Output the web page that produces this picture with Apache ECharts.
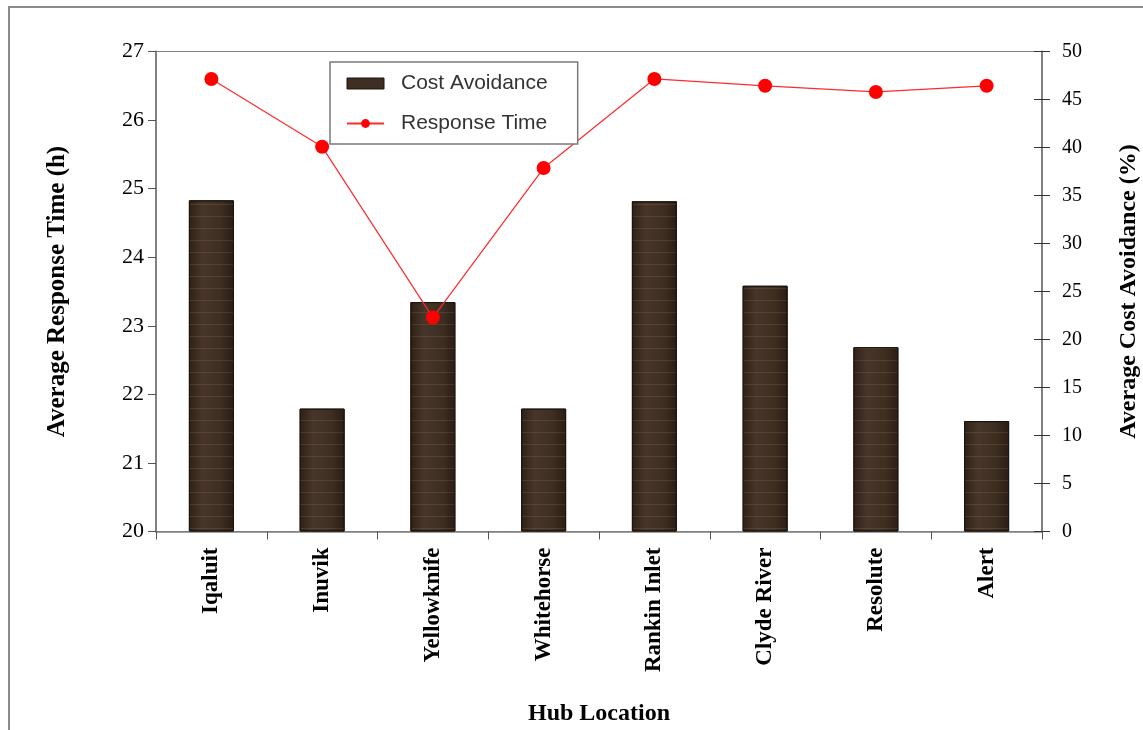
<!DOCTYPE html>
<html>
<head>
<meta charset="utf-8">
<script src="https://cdn.jsdelivr.net/npm/echarts@6/dist/echarts.min.js"></script>
<style>html,body{margin:0;padding:0;background:#fff;overflow:hidden;}#c{width:1143px;height:730px;}</style>
</head>
<body>
<div id="c"></div>
<script>
var categories = ['Iqaluit', 'Inuvik', 'Yellowknife', 'Whitehorse', 'Rankin Inlet', 'Clyde River', 'Resolute', 'Alert'];
var costAvoidance = [34.5, 12.8, 23.9, 12.8, 34.4, 25.6, 19.2, 11.5];
var responseTime = [26.6, 25.61, 23.12, 25.3, 26.6, 26.5, 26.41, 26.5];
var leftTicks = [20, 27, 1];
var rightTicks = [0, 50, 5];

var chart = echarts.init(document.getElementById('c'), null, {renderer: 'canvas', width: 1143, height: 730});
var serif = '"Liberation Serif", "Times New Roman", serif';
var sans = '"Liberation Sans", Arial, sans-serif';
var axisGray = '#808080';

var woodColor = new echarts.graphic.LinearGradient(0, 0, 1, 0, [
  {offset: 0, color: '#2e2016'},
  {offset: 0.3, color: '#47352a'},
  {offset: 0.7, color: '#3e2e22'},
  {offset: 1, color: '#2a1d14'}
]);

chart.setOption({
  animation: false,
  backgroundColor: '#fff',
  graphic: [{
    type: 'polyline', shape: {points: [[9, 740], [9, 7], [1150, 7]]},
    style: {fill: 'none', stroke: '#8a8a8a', lineWidth: 2}, silent: true
  }],
  grid: {left: 156, right: 101, top: 51.5, bottom: 198.5, outerBoundsMode: 'none', containLabel: false, show: true, borderColor: axisGray, borderWidth: 1},
  legend: {
    left: 330, top: 62, width: 248, height: 80,
    orient: 'vertical', itemGap: 19, padding: [11, 30, 10, 16],
    borderColor: '#7a7a7a', borderWidth: 1.5, backgroundColor: '#fff',
    itemWidth: 37, itemHeight: 11,
    textStyle: {fontFamily: sans, fontSize: 21, color: '#333', padding: [0, 0, 0, 12]},
    data: [
      {name: 'Cost Avoidance', icon: 'rect', itemStyle: {color: '#3f2e22', borderColor: '#1c140d', borderWidth: 1, decal: 'none'}},
      {name: 'Response Time'}
    ]
  },
  xAxis: {
    type: 'category', data: categories,
    name: 'Hub Location', nameLocation: 'middle', nameGap: 170,
    nameTextStyle: {fontFamily: serif, fontWeight: 'bold', fontSize: 24, color: '#000'},
    axisLine: {lineStyle: {color: axisGray, width: 1.5}},
    axisTick: {show: true, alignWithLabel: false, length: 8, lineStyle: {color: '#555'}},
    axisLabel: {rotate: 90, margin: 16, fontFamily: serif, fontWeight: 'bold', fontSize: 23, color: '#000'}
  },
  yAxis: [{
    type: 'value', min: leftTicks[0], max: leftTicks[1], interval: leftTicks[2],
    position: 'left',
    name: 'Average Response Time (h)', nameLocation: 'middle', nameGap: 86,
    nameTextStyle: {fontFamily: serif, fontWeight: 'bold', fontSize: 25, color: '#000'},
    axisLine: {show: true, lineStyle: {color: axisGray, width: 2}},
    axisTick: {show: true, length: 8, lineStyle: {color: '#555'}},
    axisLabel: {fontFamily: serif, fontSize: 22, color: '#000', margin: 12},
    splitLine: {show: false}
  }, {
    type: 'value', min: rightTicks[0], max: rightTicks[1], interval: rightTicks[2],
    position: 'right',
    name: 'Average Cost Avoidance (%)', nameLocation: 'middle', nameGap: 75, nameRotate: 90,
    nameTextStyle: {fontFamily: serif, fontWeight: 'bold', fontSize: 24, color: '#000'},
    axisLine: {show: true, lineStyle: {color: axisGray, width: 2}},
    axisTick: {show: true, length: 8, lineStyle: {color: '#333'}},
    axisLabel: {fontFamily: serif, fontSize: 20, color: '#000', margin: 20},
    splitLine: {show: false}
  }, {
    type: 'value', min: rightTicks[0], max: rightTicks[1], interval: rightTicks[2],
    position: 'right',
    axisLine: {show: false},
    axisTick: {show: true, inside: true, length: 8, lineStyle: {color: '#333'}},
    axisLabel: {show: false},
    splitLine: {show: false}
  }],
  series: [{
    name: 'Cost Avoidance', type: 'bar', yAxisIndex: 1, data: costAvoidance,
    barWidth: 45,
    itemStyle: {
      color: woodColor, borderColor: '#1c140d', borderWidth: 1,
      decal: {symbol: 'rect', color: 'rgba(190,150,100,0.18)', dashArrayX: [1, 0], dashArrayY: [1, 11], rotation: 0}
    }
  }, {
    name: 'Response Time', type: 'line', yAxisIndex: 0, data: responseTime,
    symbol: 'circle', symbolSize: 14,
    lineStyle: {color: '#ff2a2a', width: 1.2},
    itemStyle: {color: '#ff0000'}
  }]
});
</script>
</body>
</html>
